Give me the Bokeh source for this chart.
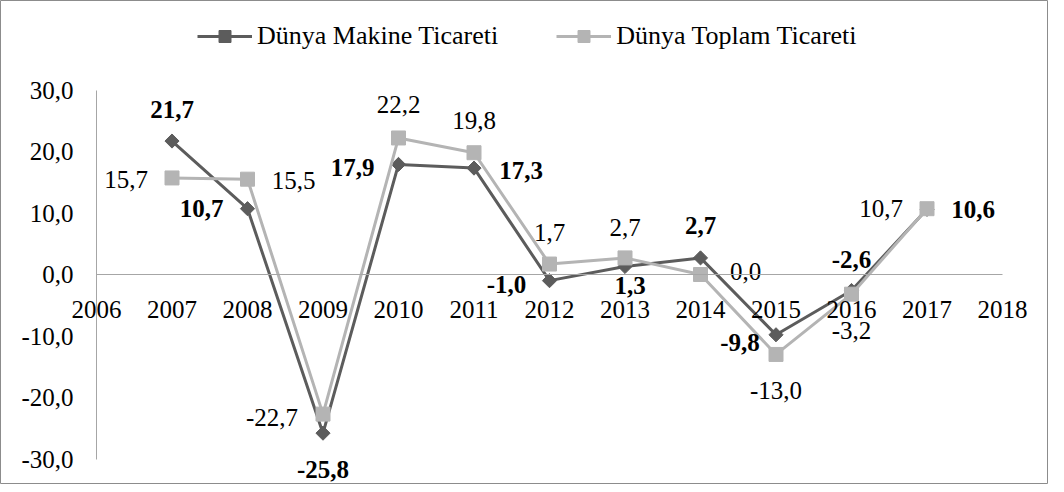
import math
from bokeh.plotting import figure
from bokeh.models import (LinearAxis, FixedTicker, Range1d, Legend, LegendItem,
                          ColumnDataSource)
from bokeh.core.properties import value
from bokeh.embed import file_html
from bokeh.resources import INLINE

# ---------------- data ----------------
years = [2007, 2008, 2009, 2010, 2011, 2012, 2013, 2014, 2015, 2016, 2017]
makine = [21.7, 10.7, -25.8, 17.9, 17.3, -1.0, 1.3, 2.7, -9.8, -2.6, 10.6]
toplam = [15.7, 15.5, -22.7, 22.2, 19.8, 1.7, 2.7, 0.0, -13.0, -3.2, 10.7]
series_names = ["Dünya Makine Ticareti", "Dünya Toplam Ticareti"]
x_ticks = [2006, 2007, 2008, 2009, 2010, 2011, 2012, 2013, 2014, 2015, 2016, 2017, 2018]
x_tick_labels = ["2006", "2007", "2008", "2009", "2010", "2011", "2012",
                 "2013", "2014", "2015", "2016", "2017", "2018"]
y_ticks = [-30, -20, -10, 0, 10, 20, 30]
y_tick_labels = ["-30,0", "-20,0", "-10,0", "0,0", "10,0", "20,0", "30,0"]

# ---------------- label placement (screen px offsets, style only) ----------------
mak_dx = [0, -46, 0, -46, 47, -43, 5, 0, -36, 0, 46]
mak_dy = [-32, 0, 36, 3, 2, 4, 19, -32, 8, -31, 0]
top_dx = [-46, 46, -51, 0, 0, 0, 0, 45, 0, 0, -46]
top_dy = [2, 1, 3, -33, -32, -32, -30, -3, 36, 36, 0]

DARK = "#5c5c5c"
LIGHT = "#b4b4b4"
FONT = "Liberation Serif"


def fmt(v):
    return f"{v:.1f}".replace(".", ",")


# ---------------- layout ----------------
W, H = 1048, 484
px_per_year = 75.5
px_per_unit = 6.15
x0, y0 = 96, 274   # canvas position of (2006, 0)

x_range = Range1d(2006 - x0 / px_per_year, 2006 + (W - x0) / px_per_year)
y_range = Range1d(-(H - y0) / px_per_unit, y0 / px_per_unit)

p = figure(width=W, height=H, x_range=x_range, y_range=y_range,
           x_axis_type=None, y_axis_type=None, output_backend="svg",
           toolbar_location=None, min_border=0)
p.min_border_left = p.min_border_right = p.min_border_top = p.min_border_bottom = 0
p.outline_line_color = "#8c8c8c"
p.outline_line_width = 1
p.background_fill_color = "white"
p.border_fill_color = "white"


def style_axis(ax, standoff):
    ax.axis_line_color = "#a6a6a6"
    ax.axis_line_width = 1
    ax.major_tick_line_color = None
    ax.minor_tick_line_color = None
    ax.major_tick_in = 0
    ax.major_tick_out = 0
    ax.minor_tick_in = 0
    ax.minor_tick_out = 0
    ax.major_label_text_font = FONT
    ax.major_label_text_font_size = "25px"
    ax.major_label_text_color = "black"
    ax.major_label_standoff = standoff


xaxis = LinearAxis(fixed_location=0, bounds=(x_ticks[0], x_ticks[-1]),
                   ticker=FixedTicker(ticks=x_ticks),
                   major_label_overrides={t: l for t, l in zip(x_ticks, x_tick_labels)})
style_axis(xaxis, 26)
p.add_layout(xaxis, "below")

yaxis = LinearAxis(fixed_location=x_ticks[0], bounds=(y_ticks[0], y_ticks[-1]),
                   ticker=FixedTicker(ticks=y_ticks),
                   major_label_overrides={t: l for t, l in zip(y_ticks, y_tick_labels)})
style_axis(yaxis, 23)
p.add_layout(yaxis, "left")

# ---------------- series ----------------
l1 = p.line(years, makine, line_color=DARK, line_width=3)
m1 = p.scatter(years, makine, marker="square", angle=math.pi / 4, size=10,
               fill_color=DARK, line_color=DARK)
l2 = p.line(years, toplam, line_color=LIGHT, line_width=3)
m2 = p.scatter(years, toplam, marker="square", size=14,
               fill_color=LIGHT, line_color=LIGHT)

src1 = ColumnDataSource(dict(x=years, y=makine, t=[fmt(v) for v in makine],
                             dx=mak_dx, dy=mak_dy))
src2 = ColumnDataSource(dict(x=years, y=toplam, t=[fmt(v) for v in toplam],
                             dx=top_dx, dy=top_dy))
p.text(x="x", y="y", text="t", x_offset="dx", y_offset="dy", source=src1,
       text_font=value(FONT), text_font_size="25px", text_font_style="bold",
       text_color="black", text_align="center", text_baseline="middle")
p.text(x="x", y="y", text="t", x_offset="dx", y_offset="dy", source=src2,
       text_font=value(FONT), text_font_size="25px", text_font_style="normal",
       text_color="black", text_align="center", text_baseline="middle")

# ---------------- legend ----------------
legend = Legend(items=[LegendItem(label=series_names[0], renderers=[l1, m1]),
                       LegendItem(label=series_names[1], renderers=[l2, m2])],
                orientation="horizontal", location=(197, H - 51),
                padding=0, margin=0, spacing=58, glyph_width=55, glyph_height=30,
                label_standoff=5, label_height=30,
                border_line_color=None, background_fill_alpha=0,
                label_text_font=FONT, label_text_font_size="26px",
                label_text_color="black")
p.add_layout(legend, "center")

open("out.html", "w").write(file_html(p, INLINE))
